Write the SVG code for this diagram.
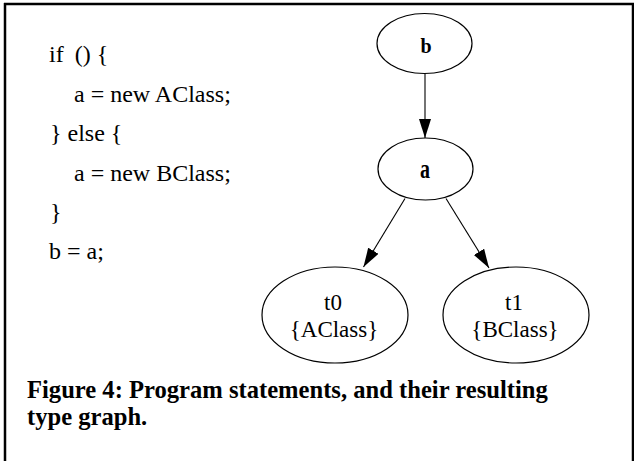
<svg xmlns="http://www.w3.org/2000/svg" width="634" height="461" viewBox="0 0 634 461">
<style>
.node{fill:#fff;stroke:#000;stroke-width:1.2}
.edge{stroke:#000;stroke-width:1.1;fill:none}
.lbl{font-family:"Liberation Serif","Times New Roman",serif;font-size:23px;fill:#000;text-anchor:middle}
.nb{font-family:"Liberation Serif","Times New Roman",serif;font-weight:bold;fill:#000;text-anchor:middle}
.code{font-family:"Liberation Serif","Times New Roman",serif;font-size:24px;fill:#000}
.cap{font-family:"Liberation Serif","Times New Roman",serif;font-size:24.6px;font-weight:bold;fill:#000}
.frame{stroke:#000;stroke-width:2.5;fill:none}
</style>
<defs>
<marker id="arr" markerUnits="userSpaceOnUse" markerWidth="20" markerHeight="13" refX="19" refY="6" orient="auto">
<path d="M0,0 L19,6 L0,12 z" fill="#000"/>
</marker>
</defs>
<rect width="634" height="461" fill="#fff"/>
<g id="frame">
<line class="frame" x1="4" y1="4" x2="634" y2="4"/>
<line class="frame" x1="5" y1="3" x2="5" y2="461"/>
<line class="frame" x1="633" y1="3" x2="633" y2="461"/>
</g>
<g id="code">
<text class="code" x="49" y="62">if<tspan dx="5"> () {</tspan></text>
<text class="code" x="74" y="101.5">a = new AClass;</text>
<text class="code" x="50" y="141">} else {</text>
<text class="code" x="74" y="180.5">a = new BClass;</text>
<text class="code" x="50" y="220">}</text>
<text class="code" x="49" y="259">b = a;</text>
</g>
<g id="edges">
<line class="edge" x1="425" y1="73.5" x2="425" y2="138" marker-end="url(#arr)"/>
<line class="edge" x1="405" y1="198.5" x2="363.5" y2="267" marker-end="url(#arr)"/>
<line class="edge" x1="446" y1="198.5" x2="489" y2="268" marker-end="url(#arr)"/>
</g>
<g id="node-b">
<ellipse class="node" cx="424.5" cy="43.5" rx="47.5" ry="30"/>
<text class="nb" font-size="20" transform="translate(426,53) scale(1,1.1)">b</text>
</g>
<g id="node-a">
<ellipse class="node" cx="425.5" cy="169" rx="47.5" ry="31"/>
<text class="nb" font-size="20" transform="translate(425,178) scale(1,1.4)">a</text>
</g>
<g id="node-t0">
<ellipse class="node" cx="335" cy="315" rx="73" ry="48"/>
<text class="lbl" x="333" y="310">t0</text>
<text class="lbl" x="334" y="337">{AClass}</text>
</g>
<g id="node-t1">
<ellipse class="node" cx="516" cy="315" rx="73" ry="48"/>
<text class="lbl" x="514" y="310">t1</text>
<text class="lbl" x="515" y="337">{BClass}</text>
</g>
<g id="caption">
<text class="cap" x="27" y="398">Figure 4: Program statements, and their resulting</text>
<text class="cap" x="27" y="425">type graph.</text>
</g>
</svg>
